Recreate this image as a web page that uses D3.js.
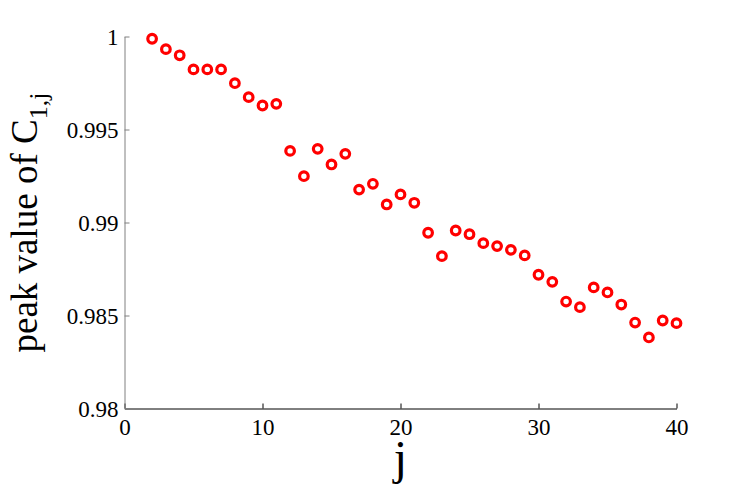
<!DOCTYPE html>
<html>
<head>
<meta charset="utf-8">
<script src="https://cdn.jsdelivr.net/npm/d3@7/dist/d3.min.js"></script>
<style>
  html, body { margin: 0; padding: 0; background: #fff; }
  svg { display: block; }
  svg text { font-family: "Liberation Serif", "Times New Roman", serif !important; }
</style>
</head>
<body>
<svg id="chart" width="747" height="488"></svg>
<script>
const jValues = [2,3,4,5,6,7,8,9,10,11,12,13,14,15,16,17,18,19,20,21,22,23,24,25,26,27,28,29,30,31,32,33,34,35,36,37,38,39,40];
const peakValues = [0.99988,0.99932,0.99899,0.99823,0.99823,0.99823,0.99749,0.99674,0.99629,0.99638,
  0.99385,0.99249,0.99396,0.99312,0.99369,0.99177,0.99208,0.99097,0.99151,0.99106,
  0.98945,0.98819,0.98957,0.98937,0.98889,0.98873,0.98853,0.98823,0.98719,0.98681,
  0.98575,0.98545,0.98651,0.98624,0.98559,0.98462,0.98382,0.98473,0.98459];
const xTicks = [0,10,20,30,40];
const yTicks = [0.98,0.985,0.99,0.995,1];
const yTickLabels = ["0.98","0.985","0.99","0.995","1"];

const svg = d3.select("#chart");
const x = d3.scaleLinear().domain([0,40]).range([124.5,676.5]);
const y = d3.scaleLinear().domain([0.98,1]).range([408.5,36.5]);

// x axis
const xAxis = svg.append("g").attr("transform", `translate(0,${y(0.98)})`)
  .call(d3.axisBottom(x).tickValues(xTicks).tickSize(-5).tickSizeOuter(0).tickPadding(0).tickFormat(d3.format("d")));
xAxis.attr("font-family", null);
xAxis.select(".domain").attr("stroke", "#000").attr("stroke-width", 1);
xAxis.selectAll(".tick line").attr("stroke", "#000");
xAxis.selectAll(".tick text").attr("font-size", 23).attr("fill", "#000")
  .style("font-family", "'Liberation Serif', serif").attr("y", 26.5).attr("dy", 0);

// y axis
const yAxis = svg.append("g").attr("transform", `translate(${x(0)},0)`)
  .call(d3.axisLeft(y).tickValues(yTicks).tickSize(-5).tickSizeOuter(0).tickPadding(0)
    .tickFormat((d,i) => yTickLabels[i]));
yAxis.attr("font-family", null);
yAxis.select(".domain").attr("stroke", "#808080").attr("stroke-width", 1);
yAxis.selectAll(".tick line").attr("stroke", "#808080");
yAxis.selectAll(".tick text").attr("font-size", 23).attr("fill", "#000")
  .style("font-family", "'Liberation Serif', serif").attr("x", -6).attr("dy", "0.36em");

// points
svg.append("g").selectAll("circle").data(jValues).join("circle")
  .attr("cx", (d) => x(d))
  .attr("cy", (d,i) => y(peakValues[i]))
  .attr("r", 4.3)
  .attr("fill", "none")
  .attr("stroke", "#ff0000")
  .attr("stroke-width", 3.2);

// x label
svg.append("text").attr("x", x(20)).attr("y", 474).attr("text-anchor", "middle")
  .attr("font-size", 48).attr("fill", "#000").text("j");

// y label
const yl = svg.append("text").attr("transform", `translate(37,${(y(0.98)+y(1))/2}) rotate(-90)`)
  .attr("text-anchor", "middle").attr("font-size", 37).attr("fill", "#000");
yl.append("tspan").text("peak value of C");
yl.append("tspan").attr("font-size", 26).attr("dy", 10).text("1,j");
</script>
</body>
</html>
